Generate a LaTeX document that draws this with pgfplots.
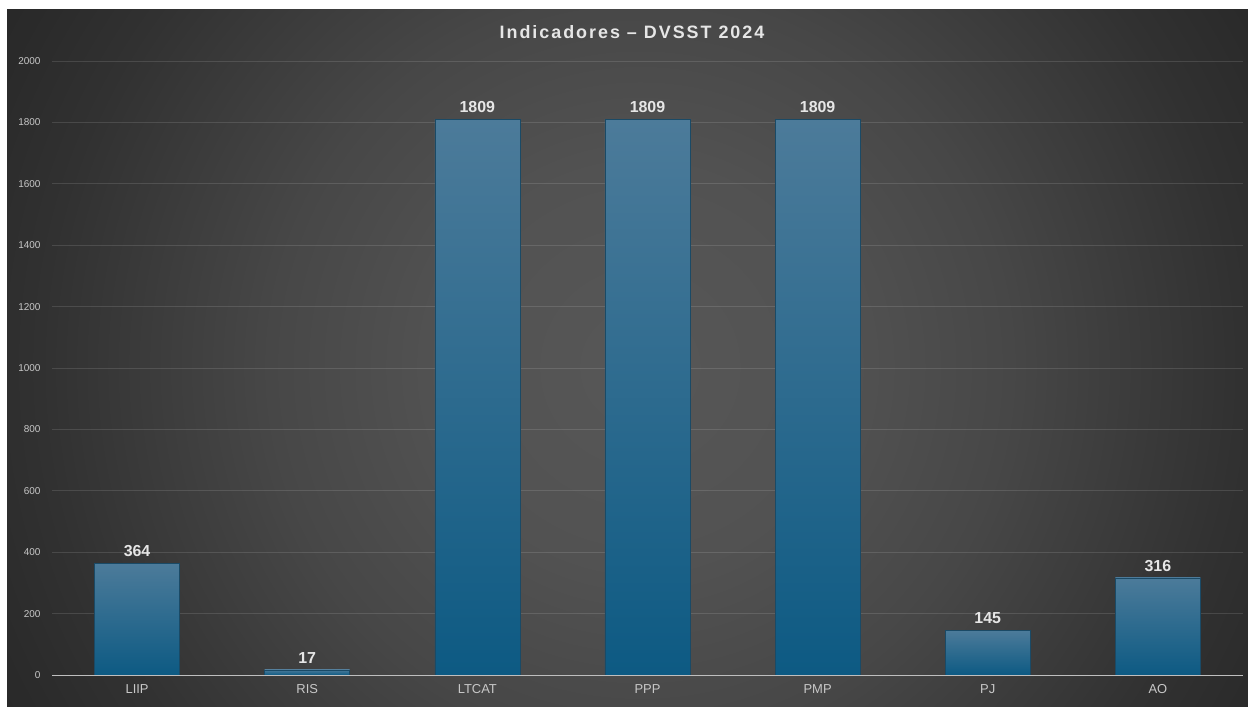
\documentclass[border=0pt]{standalone}
\usepackage{pgfplots}
\pgfplotsset{compat=1.18}
\usepackage{fontspec}
\setmainfont{Liberation Sans}
\newfontfamily\titlefont[LetterSpace=11]{Liberation Sans}
\definecolor{bgA}{HTML}{575757}
\definecolor{bgB}{HTML}{525252}
\definecolor{bgC}{HTML}{474747}
\definecolor{bgD}{HTML}{313131}
\definecolor{bgE}{HTML}{2A2A2A}
\definecolor{bgF}{HTML}{262626}
\definecolor{barTop}{HTML}{4C7B9A}
\definecolor{barMid}{HTML}{1E6A92}
\definecolor{barBot}{HTML}{0D5A83}
\definecolor{barEdge}{HTML}{1A4A66}
\definecolor{lblc}{HTML}{E6E6E6}
\definecolor{tickc}{HTML}{C8C8C8}
\pgfdeclareradialshading{bgshade}{\pgfpoint{0bp}{0bp}}{color(0bp)=(bgA); color(200bp)=(bgB); color(370bp)=(bgC); color(600bp)=(bgD); color(700bp)=(bgE); color(800bp)=(bgF)}
\begin{document}
\begin{tikzpicture}
\useasboundingbox (0,0) rectangle (1248bp,707bp);
\fill[white] (0,0) rectangle (1248bp,707bp);
\begin{scope}
\clip (7bp,0) rectangle (1248bp,697bp);
\node[inner sep=0pt, outer sep=0pt] at (640bp,340bp) {\pgfuseshading{bgshade}};
\end{scope}
\node[text=lblc, font=\titlefont\fontsize{18}{21}\selectfont\bfseries] at (632bp,675bp) {Indicadores – DVSST 2024};
\begin{axis}[
  at={(52bp,32bp)}, anchor=south west,
  scale only axis, width=1191bp, height=614bp,
  xmin=-0.5, xmax=6.5, ymin=0, ymax=2000,
  ytick={0,200,...,2000},
  xtick={0,...,6},
  xticklabels={LIIP,RIS,LTCAT,PPP,PMP,PJ,AO},
  axis x line*=bottom, axis y line*=left,
  y axis line style={draw=none},
  x axis line style={color=white!75!black, line width=0.9bp},
  major tick length=0pt,
  ymajorgrids,
  grid style={color=white, opacity=0.12, line width=0.8bp},
  /pgf/number format/assume math mode=true,
  /pgf/number format/1000 sep={},
  yticklabel style={text=tickc, font=\fontsize{10}{12}\selectfont, xshift=-8bp},
  xticklabel style={text=tickc, font=\fontsize{13}{15}\selectfont, yshift=-6bp},
  barsty/.style={ybar, bar width=85bp, bar shift=0pt, draw=barEdge, line width=0.5bp, top color=barTop, middle color=barMid, bottom color=barBot,
    nodes near coords,
    every node near coord/.append style={text=lblc, font=\fontsize{16}{18}\selectfont\bfseries, yshift=3bp}},
]
\addplot[barsty] coordinates {(0,364)};
\addplot[barsty] coordinates {(1,17)};
\addplot[barsty] coordinates {(2,1809)};
\addplot[barsty] coordinates {(3,1809)};
\addplot[barsty] coordinates {(4,1809)};
\addplot[barsty] coordinates {(5,145)};
\addplot[barsty] coordinates {(6,316)};
\end{axis}
\end{tikzpicture}
\end{document}
